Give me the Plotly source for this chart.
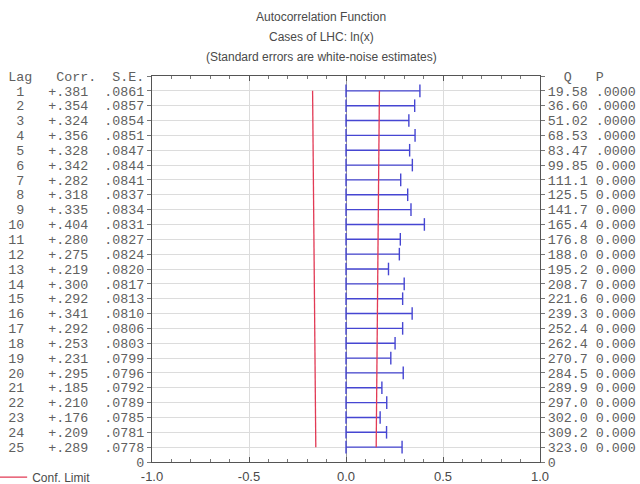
import plotly.graph_objects as go

# ---- data ----
lags = list(range(1, 26))
corr = [0.381, 0.354, 0.324, 0.356, 0.328, 0.342, 0.282, 0.318, 0.335, 0.404,
        0.280, 0.275, 0.219, 0.300, 0.292, 0.341, 0.292, 0.253, 0.231, 0.295,
        0.185, 0.210, 0.176, 0.209, 0.289]
se = [0.0861, 0.0857, 0.0854, 0.0851, 0.0847, 0.0844, 0.0841, 0.0837, 0.0834, 0.0831,
      0.0827, 0.0824, 0.0820, 0.0817, 0.0813, 0.0810, 0.0806, 0.0803, 0.0799, 0.0796,
      0.0792, 0.0789, 0.0785, 0.0781, 0.0778]
q_stat = [19.58, 36.60, 51.02, 68.53, 83.47, 99.85, 111.1, 125.5, 141.7, 165.4,
          176.8, 188.0, 195.2, 208.7, 221.6, 239.3, 252.4, 262.4, 270.7, 284.5,
          289.9, 297.0, 302.0, 309.2, 323.0]
p_labels = [".0000"] * 5 + ["0.000"] * 20
x_ticks = [-1.0, -0.5, 0.0, 0.5, 1.0]
titles = ["Autocorrelation Function", "Cases of LHC: ln(x)",
          "(Standard errors are white-noise estimates)"]

NB = "\u00a0"
BLUE = "#4646d2"
RED = "#e23a55"
GRAY_TXT = "#606060"

def fmt_corr(c):
    return f"{c:+.3f}".replace("+0.", "+.").replace("-0.", "-.")

def fmt_se(s):
    return f"{s:.4f}".lstrip("0")

def fmt_q(q):
    return f"{q:.2f}" if q < 100 else f"{q:.1f}"

left_text = ["Lag" + NB * 3 + "Corr." + NB * 2 + "S.E."]
for l, c, s in zip(lags, corr, se):
    left_text.append(f"{l:>2}".replace(" ", NB) + NB * 3 + fmt_corr(c) + NB * 2 + fmt_se(s))
left_text.append("0")

right_text = [NB * 2 + "Q" + NB * 3 + "P"]
for q, p in zip(q_stat, p_labels):
    right_text.append(fmt_q(q) + NB + p)
right_text.append("0")

tickvals = [0] + lags + [26]

# ---- traces ----
bx, by = [], []
for l, c in zip(lags, corr):
    bx += [0, c, None]
    by += [l, l, None]

fig = go.Figure()
fig.add_trace(go.Scatter(
    x=bx, y=by, mode="lines+markers",
    line=dict(color=BLUE, width=1.4),
    marker=dict(symbol="line-ns", size=9, line=dict(color=BLUE, width=1.4)),
    showlegend=False, hoverinfo="skip"))
fig.add_trace(go.Scatter(
    x=[-2 * s for s in se], y=lags, mode="lines",
    line=dict(color=RED, width=1.3), name="Conf. Limit", showlegend=True))
fig.add_trace(go.Scatter(
    x=[2 * s for s in se], y=lags, mode="lines", yaxis="y2",
    line=dict(color=RED, width=1.3), name="Conf. Limit", showlegend=False))

mono = dict(family="Liberation Mono, Courier New, monospace", size=13.33, color=GRAY_TXT)

for i, t in enumerate(titles):
    fig.add_annotation(text=t, xref="paper", yref="paper",
                       x=(321 - 152) / 388, y=(462 - [17, 37, 57][i]) / 386,
                       xanchor="center", yanchor="middle", showarrow=False,
                       font=dict(family="Liberation Sans, Arial", size=12, color="#4a4a4a"))

fig.update_layout(
    width=640, height=484,
    margin=dict(l=152, r=100, t=76, b=22, autoexpand=False),
    paper_bgcolor="white", plot_bgcolor="white",
    template="none",
    showlegend=True,
    legend=dict(x=-0.412, y=-0.039, xanchor="left", yanchor="middle",
                bgcolor="rgba(0,0,0,0)", borderwidth=0,
                font=dict(family="Liberation Sans, Arial", size=12, color="#4a4a4a")),
    xaxis=dict(range=[-1, 1], tickvals=x_ticks, ticktext=[f"{v:.1f}" for v in x_ticks],
               ticks="inside", ticklen=5, tickcolor="#555", mirror="ticks",
               showline=True, linecolor="#555", linewidth=1,
               showgrid=True, gridcolor="#dcdcdc", gridwidth=1,
               zeroline=True, zerolinecolor="#999", zerolinewidth=1,
               minor=dict(dtick=0.1, ticks="inside", ticklen=3, tickcolor="#777", showgrid=False),
               tickfont=dict(family="Liberation Sans, Arial", size=13, color="#4a4a4a"),
               ticklabelstandoff=2,
               automargin=False, fixedrange=True),
    yaxis=dict(range=[26, 0], tickvals=tickvals, ticktext=left_text,
               ticks="outside", ticklen=4, tickcolor="#777",
               showline=True, linecolor="#555", linewidth=1, mirror=True,
               showgrid=True, gridcolor="#dcdcdc", gridwidth=1, zeroline=False,
               tickfont=mono, automargin=False),
    yaxis2=dict(range=[26, 0], tickvals=tickvals, ticktext=right_text,
                overlaying="y", side="right",
                ticks="outside", ticklen=4, tickcolor="#777",
                showline=True, linecolor="#555", linewidth=1,
                showgrid=False, zeroline=False,
                tickfont=mono, automargin=False),
)

fig.write_html("out.html")
